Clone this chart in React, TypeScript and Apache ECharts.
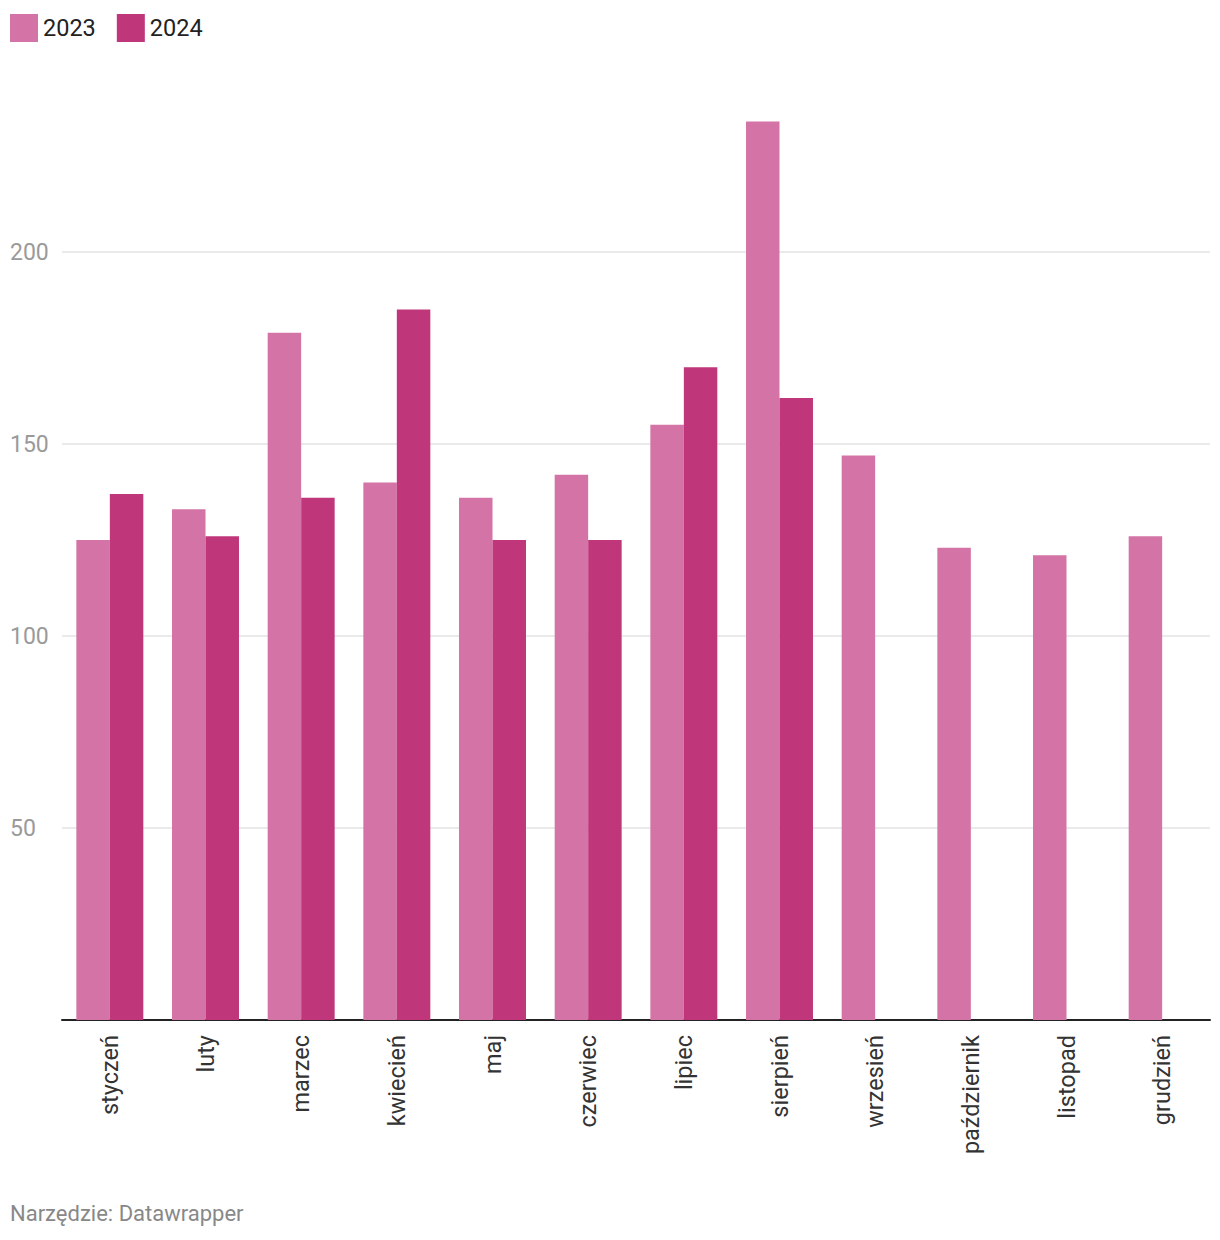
import React, { useEffect, useRef } from "react";
import * as echarts from "echarts";

const months = [
  "styczeń", "luty", "marzec", "kwiecień", "maj", "czerwiec",
  "lipiec", "sierpień", "wrzesień", "październik", "listopad", "grudzień",
];
const values2023 = [125, 133, 179, 140, 136, 142, 155, 234, 147, 123, 121, 126];
const values2024: (number | null)[] = [137, 126, 136, 185, 125, 125, 170, 162, null, null, null, null];
const yTicks = [50, 100, 150, 200];

export default function App() {
  const ref = useRef<HTMLDivElement>(null);
  useEffect(() => {
    if (!ref.current) return;
    const chart = echarts.init(ref.current, null, { renderer: "svg" });
    chart.setOption({
      animation: false,
      textStyle: { fontFamily: "Roboto" },
      legend: {
        left: 10,
        top: 14,
        padding: 0,
        icon: "rect",
        itemWidth: 28,
        itemHeight: 28,
        itemGap: 21,
        textStyle: { fontSize: 23.5, color: "#222", fontFamily: "Roboto" },
        data: ["2023", "2024"],
      },
      grid: { left: 62, right: 10, top: 98.4, bottom: 220, containLabel: false },
      xAxis: {
        type: "category",
        data: months,
        axisLine: { lineStyle: { color: "#222", width: 2 } },
        axisTick: { show: false },
        axisLabel: {
          rotate: 90,
          fontSize: 23.5,
          color: "#333",
          margin: 15,
          fontFamily: "Roboto",
        },
      },
      yAxis: {
        type: "value",
        min: 0,
        max: 240,
        interval: 50,
        axisLine: { show: false },
        axisTick: { show: false },
        splitLine: { showMaxLine: false, lineStyle: { color: "#e3e3e3", width: 1.5 } },
        axisLabel: {
          align: "left",
          margin: 52,
          fontSize: 23,
          color: "#9a9a9a",
          fontFamily: "Roboto",
          formatter: (v: number) => (yTicks.includes(v) ? String(v) : ""),
        },
      },
      series: [
        {
          name: "2023",
          type: "bar",
          data: values2023,
          barGap: "0%",
          barCategoryGap: "30%",
          itemStyle: { color: "#d473a5" },
        },
        {
          name: "2024",
          type: "bar",
          data: values2024,
          barGap: "0%",
          barCategoryGap: "30%",
          itemStyle: { color: "#bf367a" },
        },
      ],
      graphic: [
        {
          type: "text",
          left: 10,
          top: 1202,
          style: {
            text: "Narzędzie: Datawrapper",
            fontSize: 22,
            fill: "#888",
            fontFamily: "Roboto",
          },
        },
      ],
    });
    return () => chart.dispose();
  }, []);
  return (
    <div
      ref={ref}
      style={{ position: "fixed", left: 0, top: 0, width: 1220, height: 1240, background: "#fff" }}
    />
  );
}
